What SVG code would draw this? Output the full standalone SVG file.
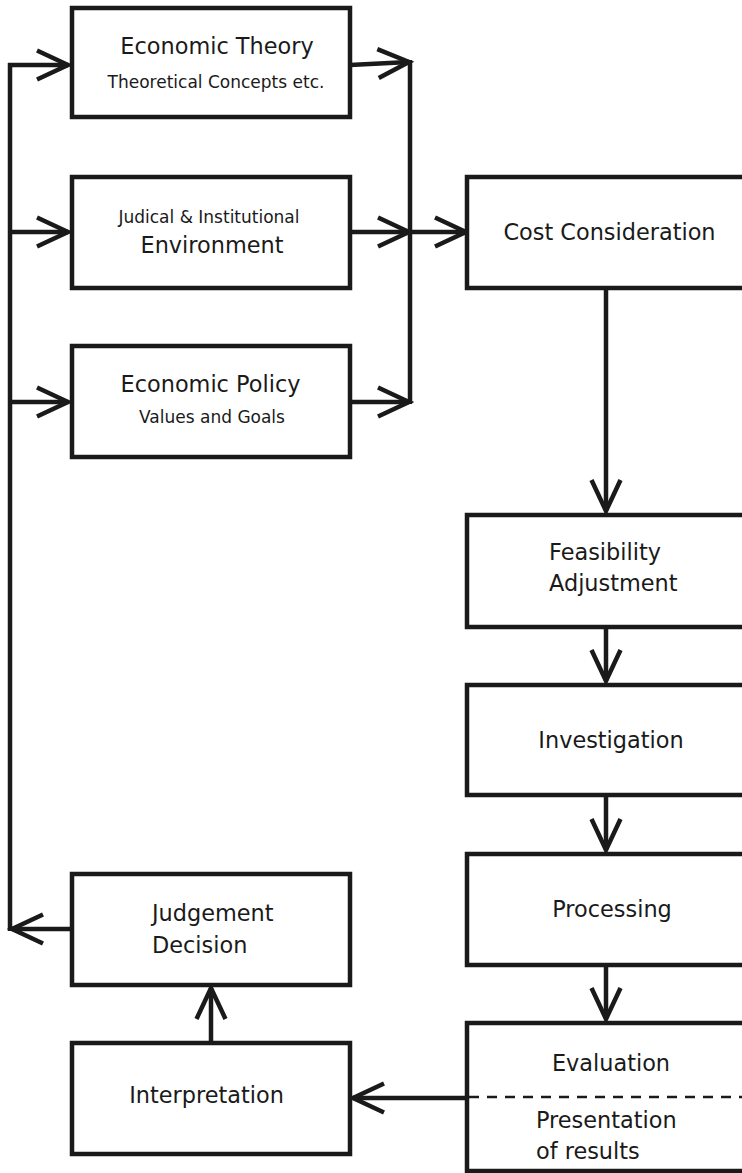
<svg xmlns="http://www.w3.org/2000/svg" width="742" height="1173" viewBox="0 0 742 1173">
<style>
.box{fill:#ffffff;stroke:#1a1a1a;stroke-width:4.5}
.ln{fill:none;stroke:#1a1a1a;stroke-width:4.5}
.dash{fill:none;stroke:#1a1a1a;stroke-width:2.5;stroke-dasharray:10 8}
text{font-family:"DejaVu Sans","Liberation Sans",sans-serif;fill:#1a1a1a}
.big{font-size:22.4px}
.small{font-size:17px}
.mid{text-anchor:middle}
</style>
<defs>
<marker id="arr" markerUnits="userSpaceOnUse" markerWidth="44" markerHeight="40" viewBox="-38 -20 44 40" refX="0" refY="0" orient="auto" overflow="visible">
<path d="M-31,-14.5 L0,0 L-31,14.5" fill="none" stroke="#1a1a1a" stroke-width="4.5"/>
</marker>
</defs>
<rect width="742" height="1173" fill="#ffffff"/>
<g id="connectors">
<line class="ln" x1="10" y1="931" x2="10" y2="63"/>
<line class="ln" x1="72" y1="929" x2="12" y2="929" marker-end="url(#arr)"/>
<line class="ln" x1="8" y1="65" x2="68" y2="65" marker-end="url(#arr)"/>
<line class="ln" x1="10" y1="232" x2="68" y2="232" marker-end="url(#arr)"/>
<line class="ln" x1="10" y1="402" x2="68" y2="402" marker-end="url(#arr)"/>
<line class="ln" x1="350" y1="65" x2="409" y2="62" marker-end="url(#arr)"/>
<line class="ln" x1="350" y1="232" x2="409" y2="232" marker-end="url(#arr)"/>
<line class="ln" x1="350" y1="402" x2="409" y2="402" marker-end="url(#arr)"/>
<line class="ln" x1="410" y1="60" x2="410" y2="404"/>
<line class="ln" x1="410" y1="232" x2="466" y2="232" marker-end="url(#arr)"/>
<line class="ln" x1="606" y1="288" x2="606" y2="511" marker-end="url(#arr)"/>
<line class="ln" x1="606" y1="627" x2="606" y2="681" marker-end="url(#arr)"/>
<line class="ln" x1="606" y1="795" x2="606" y2="850" marker-end="url(#arr)"/>
<line class="ln" x1="606" y1="965" x2="606" y2="1019" marker-end="url(#arr)"/>
<line class="ln" x1="467" y1="1098" x2="353" y2="1098" marker-end="url(#arr)"/>
<line class="ln" x1="211" y1="1043" x2="211" y2="988" marker-end="url(#arr)"/>
</g>
<g id="economic-theory">
<rect class="box" x="72" y="8" width="278" height="109"/>
<text class="big mid" x="217" y="54">Economic Theory</text>
<text class="small mid" x="216" y="88">Theoretical Concepts etc.</text>
</g>
<g id="environment">
<rect class="box" x="72" y="177" width="278" height="111"/>
<text class="small mid" x="209" y="223">Judical &amp; Institutional</text>
<text class="big mid" x="212" y="253">Environment</text>
</g>
<g id="economic-policy">
<rect class="box" x="72" y="346" width="278" height="111"/>
<text class="big mid" x="210.5" y="392">Economic Policy</text>
<text class="small mid" x="212" y="423">Values and Goals</text>
</g>
<g id="cost-consideration">
<rect class="box" x="467" y="177" width="280" height="111"/>
<text class="big mid" x="609.5" y="240">Cost Consideration</text>
</g>
<g id="feasibility">
<rect class="box" x="467" y="515" width="280" height="112"/>
<text class="big" x="549" y="560">Feasibility</text>
<text class="big" x="549" y="591">Adjustment</text>
</g>
<g id="investigation">
<rect class="box" x="467" y="685" width="280" height="110"/>
<text class="big mid" x="611" y="748">Investigation</text>
</g>
<g id="processing">
<rect class="box" x="467" y="854" width="280" height="111"/>
<text class="big mid" x="612" y="917">Processing</text>
</g>
<g id="evaluation">
<rect class="box" x="467" y="1023" width="280" height="148"/>
<line class="dash" x1="469" y1="1097" x2="742" y2="1097"/>
<text class="big mid" x="611" y="1071">Evaluation</text>
<text class="big" x="536" y="1128">Presentation</text>
<text class="big" x="536" y="1159">of results</text>
</g>
<g id="judgement">
<rect class="box" x="72" y="874" width="278" height="111"/>
<text class="big" x="152" y="921">Judgement</text>
<text class="big" x="152" y="953">Decision</text>
</g>
<g id="interpretation">
<rect class="box" x="72" y="1043" width="278" height="111"/>
<text class="big mid" x="206.5" y="1103">Interpretation</text>
</g>
</svg>
